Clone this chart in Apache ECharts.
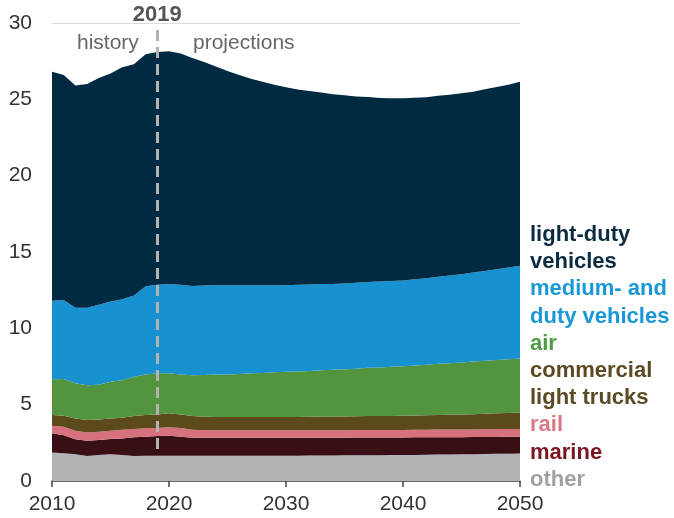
<!DOCTYPE html>
<html><head><meta charset="utf-8">
<script src="https://cdn.jsdelivr.net/npm/echarts@6/dist/echarts.min.js"></script>
<style>html,body{margin:0;padding:0;background:#fff}#c{width:674px;height:518px}</style>
</head><body><div id="c"></div>
<script>
var years = [];
for (var y = 2010; y <= 2050; y++) years.push(String(y));
var yTicks = [0, 5, 10, 15, 20, 25, 30];

var other = [1.86,1.81,1.75,1.64,1.70,1.75,1.70,1.64,1.66,1.66,1.66,1.66,1.66,1.66,1.66,1.66,1.66,1.66,1.66,1.66,1.66,1.66,1.67,1.67,1.67,1.68,1.68,1.69,1.69,1.70,1.70,1.71,1.72,1.73,1.74,1.75,1.76,1.77,1.78,1.79,1.80];
var marine = [1.26,1.19,0.98,1.00,0.98,1.00,1.09,1.22,1.24,1.29,1.31,1.24,1.18,1.18,1.18,1.18,1.18,1.18,1.18,1.18,1.18,1.18,1.17,1.17,1.17,1.16,1.17,1.16,1.16,1.15,1.15,1.15,1.14,1.14,1.13,1.12,1.12,1.12,1.11,1.11,1.10];
var rail = [0.50,0.56,0.56,0.54,0.55,0.54,0.57,0.54,0.55,0.52,0.55,0.57,0.52,0.48,0.48,0.48,0.48,0.48,0.48,0.48,0.48,0.48,0.48,0.49,0.49,0.49,0.49,0.49,0.49,0.49,0.49,0.49,0.49,0.50,0.50,0.50,0.50,0.50,0.51,0.51,0.51];
var lightTrucks = [0.70,0.72,0.81,0.82,0.80,0.81,0.79,0.85,0.87,0.89,0.91,0.89,0.89,0.89,0.88,0.88,0.88,0.88,0.88,0.88,0.88,0.88,0.89,0.89,0.89,0.90,0.90,0.91,0.91,0.92,0.93,0.94,0.95,0.96,0.97,0.99,1.00,1.02,1.03,1.05,1.07];
var air = [2.34,2.40,2.30,2.27,2.27,2.40,2.45,2.58,2.66,2.69,2.62,2.62,2.68,2.74,2.77,2.78,2.81,2.85,2.88,2.92,2.95,2.98,3.00,3.04,3.06,3.09,3.12,3.16,3.19,3.22,3.25,3.28,3.31,3.35,3.38,3.41,3.44,3.47,3.50,3.52,3.55];
var mediumHeavy = [5.14,5.17,4.95,5.08,5.25,5.25,5.30,5.32,5.77,5.80,5.85,5.87,5.85,5.85,5.85,5.85,5.82,5.78,5.75,5.71,5.68,5.67,5.66,5.64,5.63,5.62,5.62,5.62,5.62,5.62,5.62,5.65,5.67,5.70,5.74,5.78,5.83,5.88,5.94,6.00,6.07];
var lightDuty = [15.00,14.75,14.55,14.65,14.85,14.95,15.20,15.15,15.20,15.25,15.25,15.15,14.92,14.65,14.33,14.02,13.77,13.52,13.32,13.12,12.96,12.79,12.67,12.55,12.43,12.33,12.21,12.12,12.03,11.97,11.93,11.88,11.86,11.85,11.84,11.85,11.85,11.90,11.94,11.98,12.05];

var divider = { year: '2019', from: 2.1, to: 29.8 };

var seriesDefs = [
  { name: 'other', data: other, color: '#B2B3B6' },
  { name: 'marine', data: marine, color: '#380F15' },
  { name: 'rail', data: rail, color: '#D7717E' },
  { name: 'commercial light trucks', data: lightTrucks, color: '#5D4A1C' },
  { name: 'air', data: air, color: '#53943F' },
  { name: 'medium- and heavy-duty vehicles', data: mediumHeavy, color: '#1891D1' },
  { name: 'light-duty vehicles', data: lightDuty, color: '#002A41' }
];

var FONT = '"Liberation Sans", Arial, sans-serif';

var series = seriesDefs.map(function (d, i) {
  var s = {
    name: d.name, type: 'line', stack: 'total', data: d.data,
    showSymbol: false, symbol: 'none', silent: true,
    lineStyle: { width: 0 }, areaStyle: { color: d.color, opacity: 1 },
    itemStyle: { color: d.color }, z: 2
  };
  if (i === 0) {
    s.markLine = {
      silent: true, symbol: 'none', z: 10,
      lineStyle: { color: '#B3B3B3', type: [11, 6], width: 3 },
      label: {
        show: true, position: 'end', formatter: divider.year,
        color: '#555', fontWeight: 'bold', fontSize: 22, fontFamily: FONT, distance: 0
      },
      data: [[{ coord: [divider.year, divider.from] }, { coord: [divider.year, divider.to] }]]
    };
  }
  return s;
});

var chart = echarts.init(document.getElementById('c'), null, { renderer: 'canvas' });
chart.setOption({
  animation: false,
  backgroundColor: '#fff',
  grid: { left: 52, right: 154, top: 23, bottom: 37, containLabel: false },
  xAxis: {
    type: 'category', data: years, boundaryGap: false,
    axisLine: { show: true, lineStyle: { color: '#444', width: 1.5 } },
    axisTick: { show: true, interval: 9, length: 6, lineStyle: { color: '#444', width: 1.5 } },
    axisLabel: { interval: 9, color: '#333', fontSize: 21, fontFamily: FONT, margin: 13 },
    splitLine: { show: false }
  },
  yAxis: {
    type: 'value', min: yTicks[0], max: yTicks[yTicks.length - 1], interval: 5,
    axisLine: { show: false }, axisTick: { show: false },
    axisLabel: { color: '#333', fontSize: 21, fontFamily: FONT, margin: 20 },
    splitLine: { show: true, lineStyle: { color: '#DADADA', width: 1 } }
  },
  series: series,
  graphic: [
    { type: 'text', left: 77, top: 33, z: 20,
      style: { text: 'history', fill: '#666', font: '21px ' + FONT } },
    { type: 'text', left: 193, top: 33, z: 20,
      style: { text: 'projections', fill: '#666', font: '21px ' + FONT } },
    { type: 'text', left: 530, top: 224, z: 20,
      style: {
        text: '{a|light-duty}\n{a|vehicles}\n{b|medium- and}\n{b|duty vehicles}\n{c|air}\n{d|commercial}\n{d|light trucks}\n{e|rail}\n{f|marine}\n{g|other}',
        font: 'bold 22px ' + FONT,
        rich: {
          a: { fill: '#0B2B3F', font: 'bold 22px ' + FONT, lineHeight: 27.2 },
          b: { fill: '#1A97D5', font: 'bold 22px ' + FONT, lineHeight: 27.2 },
          c: { fill: '#4F9B44', font: 'bold 22px ' + FONT, lineHeight: 27.2 },
          d: { fill: '#5B4A24', font: 'bold 22px ' + FONT, lineHeight: 27.2 },
          e: { fill: '#DA7A86', font: 'bold 22px ' + FONT, lineHeight: 27.2 },
          f: { fill: '#7B1621', font: 'bold 22px ' + FONT, lineHeight: 27.2 },
          g: { fill: '#A0A1A4', font: 'bold 22px ' + FONT, lineHeight: 27.2 }
        }
      } }
  ]
});
</script>
</body></html>
